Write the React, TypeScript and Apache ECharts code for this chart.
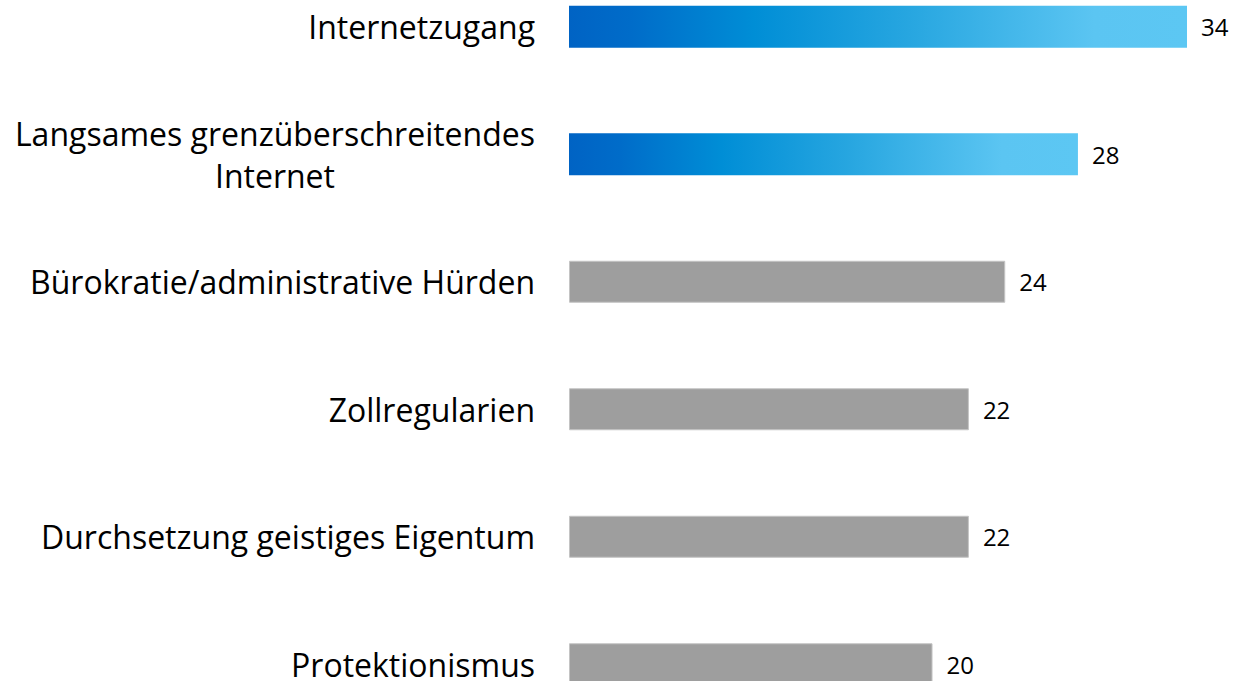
import React, { useEffect, useRef } from "react";
import * as echarts from "echarts";

const categories = [
  "Internetzugang",
  "Langsames grenzüberschreitendes\nInternet",
  "Bürokratie/administrative Hürden",
  "Zollregularien",
  "Durchsetzung geistiges Eigentum",
  "Protektionismus",
];
const values = [34, 28, 24, 22, 22, 20];
const highlighted = [true, true, false, false, false, false];

const FONT = "Open Sans";

export default function App() {
  const ref = useRef<HTMLDivElement>(null);
  useEffect(() => {
    if (!ref.current) return;
    const chart = echarts.init(ref.current, null, { renderer: "svg" });
    const blue = new echarts.graphic.LinearGradient(0, 0, 1, 0, [
      { offset: 0, color: "#0063C4" },
      { offset: 0.1, color: "#006CC9" },
      { offset: 0.3, color: "#008ED6" },
      { offset: 0.55, color: "#27A6E0" },
      { offset: 0.85, color: "#5BC5F2" },
      { offset: 1, color: "#5CC7F3" },
    ]);
    chart.setOption({
      animation: false,
      grid: { left: 569, top: 0, width: 618, height: 765 },
      xAxis: { type: "value", min: 0, max: 34, show: false },
      yAxis: {
        type: "category",
        inverse: true,
        data: categories,
        axisLine: { show: false },
        axisTick: { show: false },
        axisLabel: {
          margin: 34,
          fontFamily: FONT,
          fontSize: 32,
          color: "#000",
          formatter: (v: string) => {
            const parts = v.split("\n");
            const key = parts.length > 1 ? "m" : "s";
            return parts.map((s) => `{${key}|${s}}`).join("\n");
          },
          rich: {
            s: { fontFamily: FONT, fontSize: 32, color: "#000", align: "center", lineHeight: 28 },
            m: { fontFamily: FONT, fontSize: 32, color: "#000", align: "center", lineHeight: 42 },
          },
        },
      },
      series: [
        {
          type: "bar",
          barWidth: 42,
          data: values.map((v, i) => ({
            value: v,
            itemStyle: highlighted[i]
              ? { color: blue }
              : { color: "#9E9E9E", borderColor: "#C4C4C4", borderWidth: 1 },
          })),
          label: {
            show: true,
            position: "right",
            distance: 14,
            fontFamily: FONT,
            fontSize: 24,
            color: "#000",
          },
        },
      ],
    });
    return () => chart.dispose();
  }, []);
  return (
    <div
      style={{
        position: "fixed",
        left: 0,
        top: 0,
        width: 1238,
        height: 681,
        overflow: "hidden",
        background: "#fff",
      }}
    >
      <div
        ref={ref}
        style={{ position: "absolute", left: 0, top: -37, width: 1238, height: 800 }}
      />
    </div>
  );
}
